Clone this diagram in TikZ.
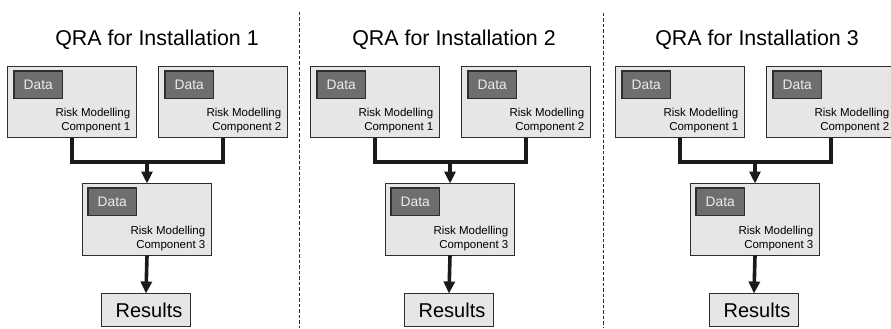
\documentclass[tikz,border=0pt]{standalone}
\usepackage{fontspec}
\setmainfont{Liberation Sans}
\usetikzlibrary{arrows.meta,calc}
\definecolor{boxfill}{HTML}{E6E6E6}
\definecolor{boxline}{HTML}{2E2E2E}
\definecolor{datafill}{HTML}{6E6E6E}
\definecolor{datatext}{HTML}{EDEDED}
\definecolor{wire}{HTML}{1A1A1A}
\begin{document}
\begin{tikzpicture}[x=1pt,y=-1pt,
  comp/.style={draw=boxline, fill=boxfill, line width=1pt, minimum width=129pt,
    minimum height=71pt, inner sep=0pt, outer sep=0pt, anchor=north west},
  datab/.style={draw=boxline, fill=datafill, line width=1.7pt, minimum width=48.5pt,
    minimum height=27.5pt, inner sep=0pt, outer sep=0pt, anchor=north west,
    text=datatext, font=\fontsize{13.8}{16}\selectfont},
  complabel/.style={anchor=south east, align=right, inner sep=0pt,
    font=\fontsize{11.5}{14}\selectfont, xshift=-6pt, yshift=4.5pt},
  result/.style={draw=boxline, fill=boxfill, line width=1pt, minimum width=89pt,
    minimum height=33pt, inner sep=0pt, outer sep=0pt, anchor=north west,
    font=\fontsize{20}{24}\selectfont},
  title/.style={anchor=base, inner sep=0pt, font=\fontsize{21.4}{26}\selectfont},
  wirestyle/.style={draw=wire, line width=3.6pt},
  arr/.style={wirestyle, -{Triangle[length=12pt,width=11pt]}},
  sep/.style={draw=boxline, line width=0.8pt, dash pattern=on 3.5pt off 2pt}
]
\useasboundingbox (0,0) rectangle (891,329);

% separators between the three installations
\draw[sep] (299,12) -- (299,328);
\draw[sep] (603,13) -- (603,328);

\foreach \i/\dx/\tx in {1/0/157, 2/303/454, 3/608/757} {
  \node[title] (t\i) at (\tx,45.5) {QRA for Installation \i};

  % two upstream modelling components
  \node[comp] (a\i) at (7.5+\dx,66.5) {};
  \node[datab] (da\i) at ($(a\i.north west)+(6.5,4.5)$) {Data};
  \node[complabel] (la\i) at (a\i.south east) {Risk Modelling\\Component 1};

  \node[comp] (b\i) at (158.5+\dx,66.5) {};
  \node[datab] (db\i) at ($(b\i.north west)+(6.5,4.5)$) {Data};
  \node[complabel] (lb\i) at (b\i.south east) {Risk Modelling\\Component 2};

  % downstream component and results
  \node[comp, minimum height=72pt] (c\i) at (82.5+\dx,183.5) {};
  \node[datab] (dc\i) at ($(c\i.north west)+(5.5,4.5)$) {Data};
  \node[complabel] (lc\i) at (c\i.south east) {Risk Modelling\\Component 3};

  \node[result, text depth=0pt] (r\i) at (101.5+\dx,293.5) {\hspace*{6pt}Results};

  % connectors
  \coordinate (j\i) at (c\i.north |- 0,162);
  \draw[wirestyle] (a\i.south) |- (j\i) -| (b\i.south);
  \draw[arr] (j\i) -- (c\i.north);
  \draw[arr] (c\i.south) -- (r\i.north);
}
\end{tikzpicture}
\end{document}
